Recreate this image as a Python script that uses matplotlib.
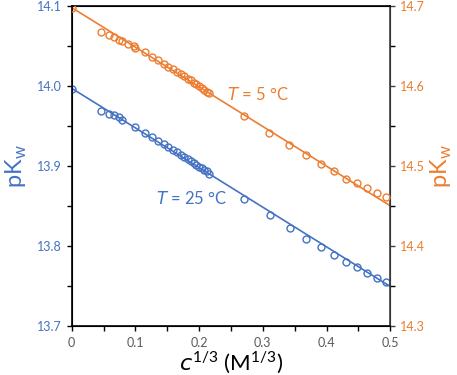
import matplotlib
matplotlib.use("Agg")
import matplotlib.pyplot as plt
from matplotlib.ticker import MultipleLocator, FuncFormatter

plt.rcParams['font.family'] = ['Lato', 'DejaVu Sans']

# ==== data ====
# x = c^(1/3) in M^(1/3)
c13_25 = [0.000, 0.046, 0.058, 0.067, 0.074, 0.079, 0.100, 0.1145, 0.126, 0.1357,
          0.1442, 0.1518, 0.1587, 0.1651, 0.1710, 0.1765, 0.1817, 0.1866, 0.1913,
          0.1957, 0.2000, 0.2041, 0.2080, 0.2118, 0.2154, 0.271, 0.311, 0.342,
          0.368, 0.391, 0.412, 0.431, 0.448, 0.464, 0.479, 0.493]
pkw_25 = [13.996, 13.969, 13.965, 13.963, 13.961, 13.957, 13.948, 13.941, 13.936, 13.931,
          13.927, 13.923, 13.920, 13.917, 13.914, 13.911, 13.908, 13.906, 13.903,
          13.901, 13.899, 13.897, 13.895, 13.893, 13.890, 13.859, 13.838, 13.822,
          13.809, 13.798, 13.788, 13.780, 13.773, 13.766, 13.760, 13.755]

c13_5 = [0.000, 0.046, 0.058, 0.067, 0.074, 0.079, 0.089, 0.097, 0.100, 0.1145, 0.126,
         0.1357, 0.1442, 0.1518, 0.1587, 0.1651, 0.1710, 0.1765, 0.1817, 0.1866,
         0.1913, 0.1957, 0.2000, 0.2041, 0.2080, 0.2118, 0.2154, 0.271, 0.310,
         0.341, 0.368, 0.391, 0.412, 0.430, 0.448, 0.464, 0.479, 0.493]
pkw_5 = [14.698, 14.668, 14.664, 14.661, 14.658, 14.656, 14.653, 14.650, 14.648, 14.642,
         14.636, 14.632, 14.628, 14.624, 14.621, 14.618, 14.615, 14.612, 14.609,
         14.607, 14.604, 14.602, 14.600, 14.597, 14.595, 14.593, 14.591, 14.562,
         14.541, 14.526, 14.513, 14.502, 14.493, 14.484, 14.478, 14.472, 14.466,
         14.461]

# fitted lines (end points)
fit_c = [0.0, 0.5]
fit_25 = [13.997, 13.749]
fit_5 = [14.698, 14.450]

BLUE = '#4472C4'
ORANGE = '#ED7D31'
GRAY = '#595959'

fig = plt.figure(figsize=(4.57, 3.75), dpi=100)
ax = fig.add_axes([0.157, 0.1315, 0.697, 0.8525])
ax2 = ax.twinx()

ax.plot(fit_c, fit_25, color=BLUE, lw=1.2, zorder=2)
ax.plot(c13_25, pkw_25, 'o', mfc='none', mec=BLUE, mew=1.0, ms=5, zorder=3)
ax2.plot(fit_c, fit_5, color=ORANGE, lw=1.2, zorder=2)
ax2.plot(c13_5, pkw_5, 'o', mfc='none', mec=ORANGE, mew=1.0, ms=5, zorder=3)

ax.set_xlim(0, 0.5)
ax.set_ylim(13.7, 14.1)
ax2.set_ylim(14.3, 14.7)

ax.xaxis.set_major_locator(MultipleLocator(0.1))
ax.xaxis.set_minor_locator(MultipleLocator(0.05))
ax.yaxis.set_major_locator(MultipleLocator(0.1))
ax.yaxis.set_minor_locator(MultipleLocator(0.05))
ax2.yaxis.set_major_locator(MultipleLocator(0.1))
ax2.yaxis.set_minor_locator(MultipleLocator(0.05))

ax.xaxis.set_major_formatter(FuncFormatter(lambda v, p: '0' if abs(v) < 1e-9 else f'{v:.1f}'))
ax.yaxis.set_major_formatter(FuncFormatter(lambda v, p: f'{v:.1f}'))
ax2.yaxis.set_major_formatter(FuncFormatter(lambda v, p: f'{v:.1f}'))

for a in (ax, ax2):
    a.tick_params(which='both', direction='out', length=3.5, width=1.0, labelsize=9)
ax.tick_params(axis='x', colors='black', labelcolor=GRAY, pad=5)
ax.tick_params(axis='y', colors='black', labelcolor=BLUE)
ax2.tick_params(axis='y', colors='#404040', labelcolor=ORANGE)

for s in ('left', 'bottom', 'top'):
    ax2.spines[s].set_color('black')
    ax2.spines[s].set_linewidth(1.2)
ax2.spines['right'].set_color('#404040')
ax2.spines['right'].set_linewidth(1.2)

ax.set_ylabel('pK$_\\mathregular{w}$', color=BLUE, fontsize=17, labelpad=6)
ax2.set_ylabel('pK$_\\mathregular{w}$', color=ORANGE, fontsize=17, labelpad=3)
ax.set_xlabel('$\\mathit{c}^\\mathregular{1/3}$ (M$^\\mathregular{1/3}$)', fontsize=16, labelpad=0)

ax.text(0.243, 13.989, '$\\mathit{T}$ = 5 °C', color=ORANGE, fontsize=12, va='center', ha='left')
ax.text(0.133, 13.859, '$\\mathit{T}$ = 25 °C', color=BLUE, fontsize=12, va='center', ha='left')

fig.savefig('out.png', dpi=100)
